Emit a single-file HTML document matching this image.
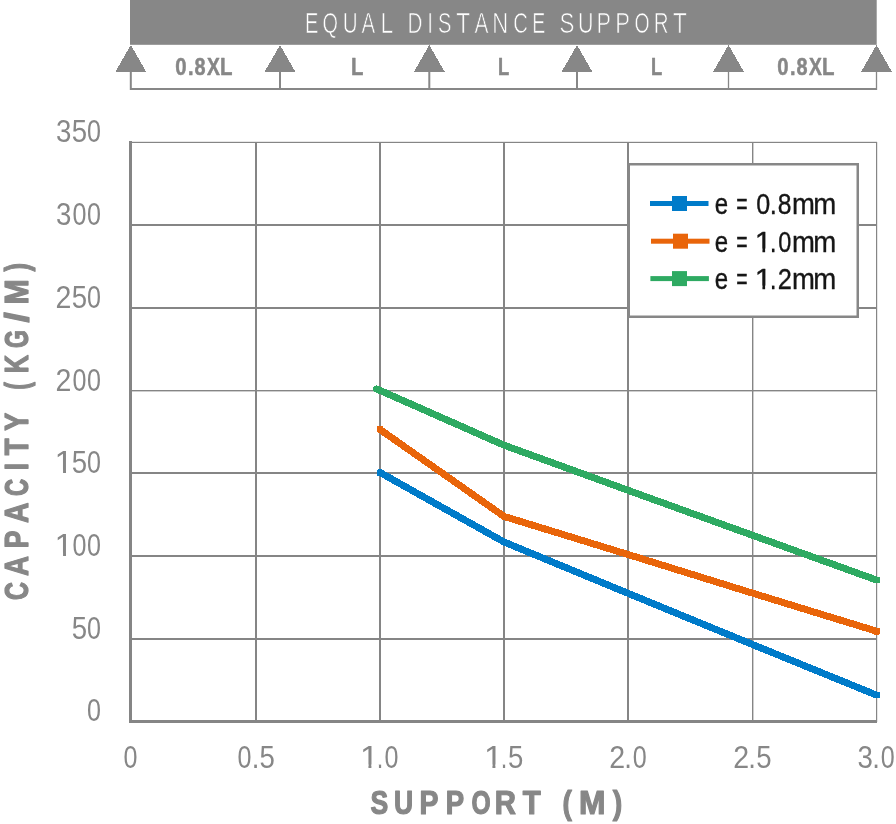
<!DOCTYPE html>
<html><head><meta charset="utf-8">
<style>
html,body{margin:0;padding:0;background:#fff;width:896px;height:824px;overflow:hidden}
svg{display:block;will-change:transform}
text{font-family:"Liberation Sans",sans-serif}
</style></head>
<body>
<svg width="896" height="824" viewBox="0 0 896 824">
<rect x="130" y="0" width="746.7" height="44.8" fill="#878787"/>
<g font-size="28.6" font-weight="normal" fill="#fff" stroke="#878787" stroke-width="0.7" stroke-linejoin="round"><text transform="translate(0.00,32.90) scale(0.7026,1.0)" x="434.08" y="0">E</text><text transform="translate(0.00,32.90) scale(0.6956,1.0)" x="463.69" y="0">Q</text><text transform="translate(0.00,32.90) scale(0.7205,1.0)" x="475.73" y="0">U</text><text transform="translate(0.00,32.90) scale(0.7173,1.0)" x="504.09" y="0">A</text><text transform="translate(0.00,32.90) scale(0.7975,1.0)" x="477.07" y="0">L</text><text transform="translate(0.00,32.90) scale(0.7208,1.0)" x="565.40" y="0">D</text><text transform="translate(0.00,32.90) scale(0.7208,1.0)" x="592.65" y="0">I</text><text transform="translate(0.00,32.90) scale(0.7037,1.0)" x="622.34" y="0">S</text><text transform="translate(0.00,32.90) scale(0.7942,1.0)" x="574.33" y="0">T</text><text transform="translate(0.00,32.90) scale(0.7338,1.0)" x="646.66" y="0">A</text><text transform="translate(0.00,32.90) scale(0.7719,1.0)" x="637.69" y="0">N</text><text transform="translate(0.00,32.90) scale(0.7067,1.0)" x="726.18" y="0">C</text><text transform="translate(0.00,32.90) scale(0.6824,1.0)" x="779.86" y="0">E</text><text transform="translate(0.00,32.90) scale(0.7798,1.0)" x="717.54" y="0">S</text><text transform="translate(0.00,32.90) scale(0.7527,1.0)" x="767.78" y="0">U</text><text transform="translate(0.00,32.90) scale(0.7578,1.0)" x="787.06" y="0">P</text><text transform="translate(0.00,32.90) scale(0.7716,1.0)" x="797.33" y="0">P</text><text transform="translate(0.00,32.90) scale(0.6796,1.0)" x="933.67" y="0">O</text><text transform="translate(0.00,32.90) scale(0.7183,1.0)" x="910.29" y="0">R</text><text transform="translate(0.00,32.90) scale(0.7877,1.0)" x="854.27" y="0">T</text></g>
<g fill="#878787">
<polygon shape-rendering="crispEdges" points="130.8,45 115.30000000000001,72 146.3,72"/>
<rect x="129.8" y="70" width="2" height="20"/>
<polygon shape-rendering="crispEdges" points="280,45 264.5,72 295.5,72"/>
<rect x="279.0" y="70" width="2" height="20"/>
<polygon shape-rendering="crispEdges" points="429.3,45 413.8,72 444.8,72"/>
<rect x="428.3" y="70" width="2" height="20"/>
<polygon shape-rendering="crispEdges" points="577,45 561.5,72 592.5,72"/>
<rect x="576.0" y="70" width="2" height="20"/>
<polygon shape-rendering="crispEdges" points="728.5,45 713.0,72 744.0,72"/>
<rect x="727.85" y="70" width="1.3" height="20"/>
<polygon shape-rendering="crispEdges" points="876.5,45 861.0,72 892.0,72"/>
<rect x="875.85" y="70" width="1.3" height="20"/>
<rect x="130" y="88" width="747" height="2"/>
</g>
<g font-size="24.3" font-weight="bold" fill="#878787" stroke="#878787" stroke-width="0.5" stroke-linejoin="round"><text transform="translate(0.00,75.20) scale(0.8370,1.0)" x="209.46" y="0">0</text><text transform="translate(0.00,75.20) scale(0.8272,1.0)" x="227.26" y="0">.</text><text transform="translate(0.00,75.20) scale(0.8173,1.0)" x="238.06" y="0">8</text><text transform="translate(0.00,75.20) scale(0.7928,1.0)" x="261.25" y="0">X</text><text transform="translate(0.00,75.20) scale(0.8407,1.0)" x="261.75" y="0">L</text></g>
<g font-size="24.3" font-weight="bold" fill="#878787" stroke="#878787" stroke-width="0.5" stroke-linejoin="round"><text transform="translate(0.00,75.20) scale(0.8370,1.0)" x="928.57" y="0">0</text><text transform="translate(0.00,75.20) scale(0.8272,1.0)" x="954.90" y="0">.</text><text transform="translate(0.00,75.20) scale(0.8173,1.0)" x="974.50" y="0">8</text><text transform="translate(0.00,75.20) scale(0.7928,1.0)" x="1020.42" y="0">X</text><text transform="translate(0.00,75.20) scale(0.8407,1.0)" x="977.73" y="0">L</text></g>
<g font-size="24.3" font-weight="bold" fill="#878787" stroke="#878787" stroke-width="0.5" stroke-linejoin="round"><text transform="translate(0.00,75.20) scale(0.8330,1.0)" x="421.33" y="0">L</text></g>
<g font-size="24.3" font-weight="bold" fill="#878787" stroke="#878787" stroke-width="0.5" stroke-linejoin="round"><text transform="translate(0.00,75.20) scale(0.7558,1.0)" x="658.96" y="0">L</text></g>
<g font-size="24.3" font-weight="bold" fill="#878787" stroke="#878787" stroke-width="0.5" stroke-linejoin="round"><text transform="translate(0.00,75.20) scale(0.7558,1.0)" x="861.38" y="0">L</text></g>
<g fill="#858585">
<rect x="129" y="141.8" width="748" height="1.2"/>
<rect x="129" y="224" width="748" height="2"/>
<rect x="129" y="307" width="748" height="2"/>
<rect x="129" y="390" width="748" height="1.4"/>
<rect x="129" y="472" width="748" height="2"/>
<rect x="129" y="555" width="748" height="2"/>
<rect x="129" y="638" width="748" height="2"/>
<rect x="255" y="142" width="2" height="580"/>
<rect x="379" y="142" width="2" height="580"/>
<rect x="503" y="142" width="2" height="580"/>
<rect x="627" y="142" width="2" height="580"/>
<rect x="752" y="142" width="1.4" height="580"/>
<rect x="876" y="142" width="1.2" height="580"/>
<rect x="129" y="141" width="3" height="582"/>
<rect x="129" y="720" width="748" height="3"/>
</g>
<g font-size="30.8" font-weight="normal" fill="#878787"><text transform="translate(0.00,141.80) scale(0.8973,1.0)" x="62.30" y="0">3</text><text transform="translate(0.00,141.80) scale(0.8973,1.0)" x="79.96" y="0">5</text><text transform="translate(0.00,141.80) scale(0.8151,1.0)" x="106.82" y="0">0</text></g>
<g font-size="30.8" font-weight="normal" fill="#878787"><text transform="translate(0.00,224.80) scale(0.8973,1.0)" x="62.30" y="0">3</text><text transform="translate(0.00,224.80) scale(0.8151,1.0)" x="88.85" y="0">0</text><text transform="translate(0.00,224.80) scale(0.8151,1.0)" x="106.82" y="0">0</text></g>
<g font-size="30.8" font-weight="normal" fill="#878787"><text transform="translate(0.00,307.80) scale(0.9256,1.0)" x="60.04" y="0">2</text><text transform="translate(0.00,307.80) scale(0.8973,1.0)" x="79.96" y="0">5</text><text transform="translate(0.00,307.80) scale(0.8151,1.0)" x="106.82" y="0">0</text></g>
<g font-size="30.8" font-weight="normal" fill="#878787"><text transform="translate(0.00,390.50) scale(0.9256,1.0)" x="60.04" y="0">2</text><text transform="translate(0.00,390.50) scale(0.8151,1.0)" x="88.85" y="0">0</text><text transform="translate(0.00,390.50) scale(0.8151,1.0)" x="106.82" y="0">0</text></g>
<g font-size="30.8" font-weight="normal" fill="#878787"><text transform="translate(0.00,472.80) scale(1.0956,1.0)" x="49.80" y="0">1</text><text transform="translate(0.00,472.80) scale(0.8973,1.0)" x="79.96" y="0">5</text><text transform="translate(0.00,472.80) scale(0.8151,1.0)" x="106.82" y="0">0</text></g><rect x="55.24" y="469.57" width="7.80" height="4.73" fill="#fff"/><rect x="66.00" y="469.57" width="7.46" height="4.73" fill="#fff"/>
<g font-size="30.8" font-weight="normal" fill="#878787"><text transform="translate(0.00,555.80) scale(1.0956,1.0)" x="49.80" y="0">1</text><text transform="translate(0.00,555.80) scale(0.8151,1.0)" x="88.85" y="0">0</text><text transform="translate(0.00,555.80) scale(0.8151,1.0)" x="106.82" y="0">0</text></g><rect x="55.24" y="552.57" width="7.80" height="4.73" fill="#fff"/><rect x="66.00" y="552.57" width="7.46" height="4.73" fill="#fff"/>
<g font-size="30.8" font-weight="normal" fill="#878787"><text transform="translate(0.00,638.60) scale(0.8973,1.0)" x="79.96" y="0">5</text><text transform="translate(0.00,638.60) scale(0.8151,1.0)" x="106.82" y="0">0</text></g>
<g font-size="30.8" font-weight="normal" fill="#878787"><text transform="translate(0.00,720.80) scale(0.8151,1.0)" x="106.82" y="0">0</text></g>
<g font-size="30.8" font-weight="normal" fill="#878787"><text transform="translate(0.00,767.80) scale(0.8151,1.0)" x="151.54" y="0">0</text></g>
<g font-size="30.8" font-weight="normal" fill="#878787"><text transform="translate(0.00,767.80) scale(0.8151,1.0)" x="291.53" y="0">0</text><text transform="translate(0.00,767.80) scale(0.8900,1.0)" x="282.80" y="0">.</text><text transform="translate(0.00,767.80) scale(0.8973,1.0)" x="289.30" y="0">5</text></g>
<g font-size="30.8" font-weight="normal" fill="#878787"><text transform="translate(0.00,767.80) scale(1.0956,1.0)" x="328.55" y="0">1</text><text transform="translate(0.00,767.80) scale(0.8900,1.0)" x="422.46" y="0">.</text><text transform="translate(0.00,767.80) scale(0.8151,1.0)" x="471.82" y="0">0</text></g><rect x="360.64" y="764.57" width="7.80" height="4.73" fill="#fff"/><rect x="371.40" y="764.57" width="7.46" height="4.73" fill="#fff"/>
<g font-size="30.8" font-weight="normal" fill="#878787"><text transform="translate(0.00,767.80) scale(1.0956,1.0)" x="441.73" y="0">1</text><text transform="translate(0.00,767.80) scale(0.8900,1.0)" x="561.79" y="0">.</text><text transform="translate(0.00,767.80) scale(0.8973,1.0)" x="566.02" y="0">5</text></g><rect x="484.64" y="764.57" width="7.80" height="4.73" fill="#fff"/><rect x="495.40" y="764.57" width="7.46" height="4.73" fill="#fff"/>
<g font-size="30.8" font-weight="normal" fill="#878787"><text transform="translate(0.00,767.80) scale(0.9256,1.0)" x="658.13" y="0">2</text><text transform="translate(0.00,767.80) scale(0.8900,1.0)" x="701.34" y="0">.</text><text transform="translate(0.00,767.80) scale(0.8151,1.0)" x="776.33" y="0">0</text></g>
<g font-size="30.8" font-weight="normal" fill="#878787"><text transform="translate(0.00,767.80) scale(0.9256,1.0)" x="792.21" y="0">2</text><text transform="translate(0.00,767.80) scale(0.8900,1.0)" x="840.77" y="0">.</text><text transform="translate(0.00,767.80) scale(0.8973,1.0)" x="842.74" y="0">5</text></g>
<g font-size="30.8" font-weight="normal" fill="#878787"><text transform="translate(0.00,767.80) scale(0.8973,1.0)" x="955.63" y="0">3</text><text transform="translate(0.00,767.80) scale(0.8900,1.0)" x="979.99" y="0">.</text><text transform="translate(0.00,767.80) scale(0.8151,1.0)" x="1080.59" y="0">0</text></g>
<g font-size="32.4" font-weight="bold" fill="#878787" stroke="#878787" stroke-width="1.2" stroke-linejoin="round"><text transform="translate(0.00,814.10) scale(0.8201,1.0)" x="451.69" y="0">S</text><text transform="translate(0.00,814.10) scale(0.8175,1.0)" x="481.95" y="0">U</text><text transform="translate(0.00,814.10) scale(0.8752,1.0)" x="479.46" y="0">P</text><text transform="translate(0.00,814.10) scale(0.8496,1.0)" x="524.67" y="0">P</text><text transform="translate(0.00,814.10) scale(0.7589,1.0)" x="621.21" y="0">O</text><text transform="translate(0.00,814.10) scale(0.9061,1.0)" x="545.94" y="0">R</text><text transform="translate(0.00,814.10) scale(0.9071,1.0)" x="576.34" y="0">T</text><text transform="translate(0.00,814.10) scale(0.8707,1.0)" x="645.95" y="0">(</text><text transform="translate(0.00,814.10) scale(0.9812,1.0)" x="590.14" y="0">M</text><text transform="translate(0.00,814.10) scale(0.8803,1.0)" x="695.97" y="0">)</text></g>
<g font-size="32.4" font-weight="bold" fill="#878787" stroke="#878787" stroke-width="1.2" stroke-linejoin="round"><text transform="translate(28.20,599.40) rotate(-90) scale(0.7682,1.0)" x="-0.73" y="0">C</text><text transform="translate(28.20,599.40) rotate(-90) scale(0.8587,1.0)" x="27.39" y="0">A</text><text transform="translate(28.20,599.40) rotate(-90) scale(0.8189,1.0)" x="62.42" y="0">P</text><text transform="translate(28.20,599.40) rotate(-90) scale(0.8718,1.0)" x="87.65" y="0">A</text><text transform="translate(28.20,599.40) rotate(-90) scale(0.7325,1.0)" x="141.25" y="0">C</text><text transform="translate(28.20,599.40) rotate(-90) scale(0.7933,1.0)" x="162.96" y="0">I</text><text transform="translate(28.20,599.40) rotate(-90) scale(0.8480,1.0)" x="169.94" y="0">T</text><text transform="translate(28.20,599.40) rotate(-90) scale(0.8279,1.0)" x="203.57" y="0">Y</text><text transform="translate(28.20,599.40) rotate(-90) scale(0.7062,1.0)" x="296.76" y="0">(</text><text transform="translate(28.20,599.40) rotate(-90) scale(0.7817,1.0)" x="289.32" y="0">K</text><text transform="translate(28.20,599.40) rotate(-90) scale(0.7152,1.0)" x="351.61" y="0">G</text><text transform="translate(28.20,599.40) rotate(-90) scale(1.1403,1.0)" x="242.94" y="0">/</text><text transform="translate(28.20,599.40) rotate(-90) scale(0.9393,1.0)" x="313.88" y="0">M</text><text transform="translate(28.20,599.40) rotate(-90) scale(0.7933,1.0)" x="413.41" y="0">)</text></g>
<g fill="none" stroke-width="7" stroke-linejoin="round" shape-rendering="crispEdges">
<polyline stroke="#2eaa62" points="376.60,388.90 504.00,445.20 628.00,490.30 752.00,535.10 876.50,580.00"/>
<polyline stroke="#e9650a" points="380.00,429.50 504.00,516.40 628.00,554.50 752.00,593.00 876.50,631.20"/>
<polyline stroke="#007bc9" points="380.00,472.50 504.00,542.00 628.00,593.30 752.00,644.30 876.50,695.10"/>
</g>
<g shape-rendering="crispEdges">
<circle cx="376.6" cy="388.90" r="3.5" fill="#2eaa62"/>
<rect x="377" y="426" width="5.8" height="6" fill="#e9650a"/>
<rect x="377" y="469.3" width="6" height="6.5" rx="1.2" fill="#007bc9"/>
<rect x="873" y="576.80" width="7" height="6.5" rx="1.2" fill="#2eaa62"/>
<rect x="873" y="628.00" width="7" height="6.5" rx="1.2" fill="#e9650a"/>
<rect x="873" y="691.90" width="7" height="6.5" rx="1.2" fill="#007bc9"/>
</g>
<rect x="628.75" y="164.25" width="229" height="152.5" fill="#fff" stroke="#878787" stroke-width="2.5"/>
<rect x="650" y="201.0" width="58.5" height="5" fill="#007bc9"/>
<rect x="672" y="196.0" width="15" height="15" fill="#007bc9"/>
<rect x="651" y="238.7" width="58.5" height="5" fill="#e9650a"/>
<rect x="673" y="233.7" width="15" height="15" fill="#e9650a"/>
<rect x="650.4" y="276.1" width="58.5" height="5" fill="#2eaa62"/>
<rect x="672" y="271.1" width="15" height="15" fill="#2eaa62"/>
<g font-size="29.3" font-weight="normal" fill="#161616" stroke="#161616" stroke-width="0.35" stroke-linejoin="round"><text transform="translate(0.00,213.60) scale(0.8215,1.0)" x="869.94" y="0">e</text><text transform="translate(0.00,213.60) scale(0.6648,1.0)" x="1107.41" y="0">=</text><text transform="translate(0.00,213.60) scale(0.8568,1.0)" x="882.76" y="0">0</text><text transform="translate(0.00,213.60) scale(0.8742,1.0)" x="880.56" y="0">.</text><text transform="translate(0.00,213.60) scale(0.8427,1.0)" x="922.83" y="0">8</text><text transform="translate(0.00,213.60) scale(0.9383,1.0)" x="844.15" y="0">m</text><text transform="translate(0.00,213.60) scale(0.9431,1.0)" x="862.23" y="0">m</text></g>
<g font-size="29.3" font-weight="normal" fill="#161616" stroke="#161616" stroke-width="0.35" stroke-linejoin="round"><text transform="translate(0.00,251.70) scale(0.8215,1.0)" x="869.94" y="0">e</text><text transform="translate(0.00,251.70) scale(0.6648,1.0)" x="1107.41" y="0">=</text><text transform="translate(0.00,251.70) scale(1.0442,1.0)" x="722.80" y="0">1</text><text transform="translate(0.00,251.70) scale(0.8742,1.0)" x="880.34" y="0">.</text><text transform="translate(0.00,251.70) scale(0.8011,1.0)" x="971.33" y="0">0</text><text transform="translate(0.00,251.70) scale(0.9383,1.0)" x="844.15" y="0">m</text><text transform="translate(0.00,251.70) scale(0.9431,1.0)" x="862.23" y="0">m</text></g><rect x="755.36" y="248.62" width="7.07" height="4.58" fill="#fff"/><rect x="765.12" y="248.62" width="6.76" height="4.58" fill="#fff"/>
<g font-size="29.3" font-weight="normal" fill="#161616" stroke="#161616" stroke-width="0.35" stroke-linejoin="round"><text transform="translate(0.00,288.70) scale(0.8215,1.0)" x="869.94" y="0">e</text><text transform="translate(0.00,288.70) scale(0.6648,1.0)" x="1107.41" y="0">=</text><text transform="translate(0.00,288.70) scale(1.0442,1.0)" x="722.80" y="0">1</text><text transform="translate(0.00,288.70) scale(0.8742,1.0)" x="880.34" y="0">.</text><text transform="translate(0.00,288.70) scale(0.8679,1.0)" x="896.13" y="0">2</text><text transform="translate(0.00,288.70) scale(0.9383,1.0)" x="844.15" y="0">m</text><text transform="translate(0.00,288.70) scale(0.9431,1.0)" x="862.23" y="0">m</text></g><rect x="755.36" y="285.62" width="7.07" height="4.58" fill="#fff"/><rect x="765.12" y="285.62" width="6.76" height="4.58" fill="#fff"/>
</svg>
</body></html>
